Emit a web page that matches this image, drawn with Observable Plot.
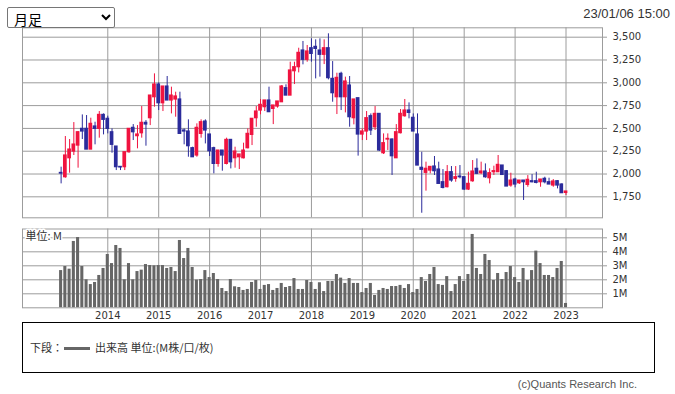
<!DOCTYPE html>
<html>
<head>
<meta charset="utf-8">
<script src="https://cdn.jsdelivr.net/npm/d3@7"></script>
<script src="https://cdn.jsdelivr.net/npm/@observablehq/plot@0.6"></script>
<style>
  html, body { margin: 0; padding: 0; background: #fff; }
  body { width: 675px; height: 394px; position: relative; overflow: hidden; font-family: "DejaVu Sans", sans-serif; }
  #sel { position: absolute; left: 7px; top: 7px; width: 108px; height: 21px; font-size: 14px; font-family: "Noto Sans CJK JP", sans-serif; border: 1px solid #767676; border-radius: 2px; background: #fff; color: #000; padding: 0 2px; z-index: 5; }
  #date { position: absolute; right: 5px; top: 6px; font: 13px "Liberation Sans", Arial, sans-serif; color: #333; }
  #price { position: absolute; left: 0; top: 0; }
  #volume { position: absolute; left: 0; top: 225px; }
  #legend { position: absolute; left: 22px; top: 322px; width: 633px; height: 51px; border: 1px solid #000; box-sizing: border-box; }
  #legend .txt { position: absolute; left: 7px; top: 16px; font: 11px "Noto Sans CJK JP", sans-serif; color: #333; white-space: nowrap; }
  #legend .sw { display: inline-block; width: 26px; height: 3px; background: #666; vertical-align: middle; margin: 0 5px 2px 1px; }
  #caption { position: absolute; right: 38px; top: 378px; font: 11px "Liberation Sans", Arial, sans-serif; color: #555; }
</style>
</head>
<body>
<select id="sel"><option>月足</option></select>
<div id="date">23/01/06 15:00</div>
<div id="price"></div>
<div id="volume"></div>
<div id="legend"><div class="txt">下段：<span class="sw"></span>出来高 単位:(M株/口/枚)</div></div>
<div id="caption">(c)Quants Research Inc.</div>
<script>
const months = [
  "2013-02","2013-03","2013-04","2013-05","2013-06","2013-07","2013-08","2013-09","2013-10","2013-11","2013-12",
  "2014-01","2014-02","2014-03","2014-04","2014-05","2014-06","2014-07","2014-08","2014-09","2014-10","2014-11","2014-12",
  "2015-01","2015-02","2015-03","2015-04","2015-05","2015-06","2015-07","2015-08","2015-09","2015-10","2015-11","2015-12",
  "2016-01","2016-02","2016-03","2016-04","2016-05","2016-06","2016-07","2016-08","2016-09","2016-10","2016-11","2016-12",
  "2017-01","2017-02","2017-03","2017-04","2017-05","2017-06","2017-07","2017-08","2017-09","2017-10","2017-11","2017-12",
  "2018-01","2018-02","2018-03","2018-04","2018-05","2018-06","2018-07","2018-08","2018-09","2018-10","2018-11","2018-12",
  "2019-01","2019-02","2019-03","2019-04","2019-05","2019-06","2019-07","2019-08","2019-09","2019-10","2019-11","2019-12",
  "2020-01","2020-02","2020-03","2020-04","2020-05","2020-06","2020-07","2020-08","2020-09","2020-10","2020-11","2020-12",
  "2021-01","2021-02","2021-03","2021-04","2021-05","2021-06","2021-07","2021-08","2021-09","2021-10","2021-11","2021-12",
  "2022-01","2022-02","2022-03","2022-04","2022-05","2022-06","2022-07","2022-08","2022-09","2022-10","2022-11","2022-12",
  "2023-01"
];
const open = [
  2012,1965,2173,2246,2312,2495,2495,2268,2521,2495,2648,
  2605,2458,2301,2078,2075,2239,2506,2415,2447,2561,2612,2842,
  2981,2776,2959,2806,2817,2817,2477,2466,2283,2203,2440,2575,
  2433,2283,2111,2257,2111,2374,2173,2184,2173,2283,2429,2612,
  2696,2733,2806,2714,2740,2787,2941,2860,3127,3171,3354,3252,
  3379,3394,3354,3307,3379,3043,2842,3098,2842,2970,2612,2831,
  2433,2466,2634,2513,2659,2228,2378,2378,2173,2448,2634,2696,
  2616,2433,2068,2013,2038,2082,2049,1910,1856,2020,1947,1972,
  1965,1830,1921,2057,2009,2027,1954,2020,2020,2093,2031,1874,
  1939,1899,1928,1881,1921,1921,1910,1947,1910,1874,1921,1885,
  1793
];
const high = [
  2075,2411,2378,2564,2466,2648,2641,2612,2568,2685,2659,
  2634,2495,2301,2082,2239,2495,2542,2531,2740,2586,2860,3098,
  3000,2959,3069,2952,2897,2897,2495,2594,2294,2550,2594,2594,
  2433,2294,2257,2257,2393,2374,2294,2214,2338,2495,2605,2740,
  2817,2806,2952,2751,2795,2970,2978,3226,3226,3379,3453,3409,
  3482,3471,3482,3471,3537,3233,3105,3116,3062,3069,2817,2831,
  2495,2685,2659,2740,2659,2440,2440,2385,2542,2707,2817,2780,
  2659,2659,2239,2130,2078,2192,2130,2049,2093,2082,2082,2093,
  1965,2020,2148,2166,2130,2111,2057,2086,2203,2093,2038,2009,
  1954,1928,1928,1983,1994,2020,1939,1965,1954,1939,1928,1892,
  1808
];
const low = [
  1892,1954,2009,2203,2064,2378,2268,2268,2320,2393,2429,
  2440,2228,2038,2038,2038,2228,2367,2276,2393,2305,2531,2733,
  2696,2685,2806,2659,2623,2440,2320,2184,2184,2184,2393,2330,
  2192,2002,2075,2031,2100,2056,2064,2049,2166,2276,2312,2513,
  2649,2685,2678,2542,2722,2787,2860,2860,2981,3109,3197,3226,
  3226,3043,3062,3200,3032,2787,2652,2696,2670,2513,2539,2196,
  2367,2367,2422,2477,2247,2214,2258,1984,2173,2440,2623,2605,
  2466,2093,1570,1812,2002,1984,1892,1837,1848,1910,1910,1947,
  1819,1819,1910,1994,1994,1954,1892,1984,2020,1984,1863,1855,
  1848,1885,1710,1855,1903,1892,1855,1892,1885,1855,1837,1790,
  1764
];
const close = [
  2005,2203,2268,2323,2458,2466,2268,2550,2495,2648,2594,
  2495,2320,2075,2072,2239,2495,2458,2433,2561,2543,2860,2981,
  2776,2959,2806,2860,2850,2440,2466,2305,2184,2506,2568,2477,
  2250,2111,2257,2203,2374,2129,2246,2214,2257,2440,2605,2685,
  2758,2806,2678,2751,2795,2959,2860,3135,3171,3328,3252,3343,
  3317,3372,3307,3379,3051,2886,3054,2842,3014,2623,2817,2433,
  2466,2612,2477,2659,2258,2338,2385,2195,2458,2659,2696,2670,
  2466,2093,2046,2057,2078,2031,1892,1848,2020,1929,1965,1965,
  1830,1892,2027,2002,2027,1965,2009,2031,2100,1990,1863,1928,
  1885,1928,1910,1936,1910,1903,1939,1910,1885,1918,1874,1790,
  1808
];
const volume = [
  2.66,2.95,2.76,4.74,5.02,2.95,2.00,1.66,1.81,2.31,2.81,
  3.81,3.16,4.45,4.24,2.00,3.16,2.00,2.59,2.69,3.09,3.02,3.00,
  3.02,3.02,2.81,2.88,2.59,4.81,3.52,4.24,2.88,1.98,2.02,2.66,
  2.16,2.45,2.02,1.38,1.16,2.02,1.50,1.45,1.24,1.31,1.81,1.95,
  1.31,1.60,1.66,1.24,1.38,1.74,1.45,1.52,2.09,1.31,1.31,1.95,
  1.81,1.31,1.79,1.16,1.88,1.88,2.38,2.12,1.74,2.09,1.74,1.74,
  1.09,1.38,1.74,0.88,1.24,1.38,1.31,1.52,1.52,1.60,1.38,1.66,
  1.09,1.31,2.16,1.88,2.38,2.88,1.66,1.60,2.23,1.16,1.66,2.23,
  1.88,2.38,5.24,2.81,2.38,3.81,3.38,1.95,2.45,2.02,2.52,2.95,
  2.16,1.81,2.81,1.95,2.66,4.05,3.16,2.31,2.31,2.16,2.81,3.31,
  0.31
];
const yearLabels = ["2014","2015","2016","2017","2018","2019","2020","2021","2022","2023"];
const priceTicks = [1750, 2000, 2250, 2500, 2750, 3000, 3250, 3500];
const volumeTicks = [1, 2, 3, 4, 5];

const UP = "#f0133f", DOWN = "#2b2b9b", GRID = "#9c9c9c", BAR = "#666666";
const data = months.map((m, k) => ({m, k, o: open[k], h: high[k], l: low[k], c: close[k], v: volume[k]}));
const yearIdx = yearLabels.map(y => months.indexOf(y + "-01"));
const xDomain = [-9.1, 127.6];
const font = {fontFamily: "'DejaVu Sans', sans-serif", fontSize: "10px", color: "#333", background: "transparent", overflow: "visible"};
const col = d => d.c >= d.o ? UP : DOWN;

const price = Plot.plot({
  width: 675, height: 225,
  marginLeft: 22, marginRight: 73, marginTop: 27.3, marginBottom: 7.7,
  style: font,
  color: {type: "identity"},
  x: {type: "linear", domain: xDomain, axis: null},
  y: {domain: [1520, 3603], axis: "right", ticks: priceTicks, tickFormat: d3.format(","), tickSize: 4, tickPadding: 6, label: null},
  marks: [
    Plot.ruleY(priceTicks, {stroke: GRID}),
    Plot.ruleX(yearIdx, {stroke: GRID}),
    Plot.ruleX(data, {x: "k", y1: "l", y2: "h", stroke: col, strokeWidth: 1}),
    Plot.rect(data, {x1: d => d.k - 0.44, x2: d => d.k + 0.44, y1: "o", y2: "c", fill: col, insetTop: -0.6, insetBottom: -0.6}),
    Plot.frame({stroke: GRID})
  ]
});
document.getElementById("price").appendChild(price);

const vol = Plot.plot({
  width: 675, height: 100,
  marginLeft: 22, marginRight: 73, marginTop: 3.5, marginBottom: 17.7,
  style: font,
  x: {type: "linear", domain: xDomain, ticks: yearIdx, tickFormat: k => yearLabels[yearIdx.indexOf(k)], tickSize: 0, tickPadding: 4, label: null},
  y: {domain: [0, 5.63], axis: "right", ticks: volumeTicks, tickFormat: d => d + "M", tickSize: 4, tickPadding: 6, label: null},
  marks: [
    Plot.ruleY(volumeTicks, {stroke: GRID}),
    Plot.ruleX(yearIdx, {stroke: GRID}),
    Plot.rect(data, {x1: d => d.k - 0.36, x2: d => d.k + 0.36, y1: 0, y2: "v", fill: BAR}),
    Plot.frame({stroke: GRID}),
    Plot.text(["単位: M"], {frameAnchor: "top-left", dx: 3, dy: 3, textAnchor: "start", lineAnchor: "top", fontSize: 11, fontFamily: "'Noto Sans CJK JP', sans-serif", fill: "#333", stroke: "white", strokeWidth: 3})
  ]
});
document.getElementById("volume").appendChild(vol);

for (const svg of [price, vol]) {
  d3.select(svg).selectAll("[aria-label^='y-axis'] path, [aria-label^='y-axis'] line").attr("stroke", GRID);
}
</script>
</body>
</html>
